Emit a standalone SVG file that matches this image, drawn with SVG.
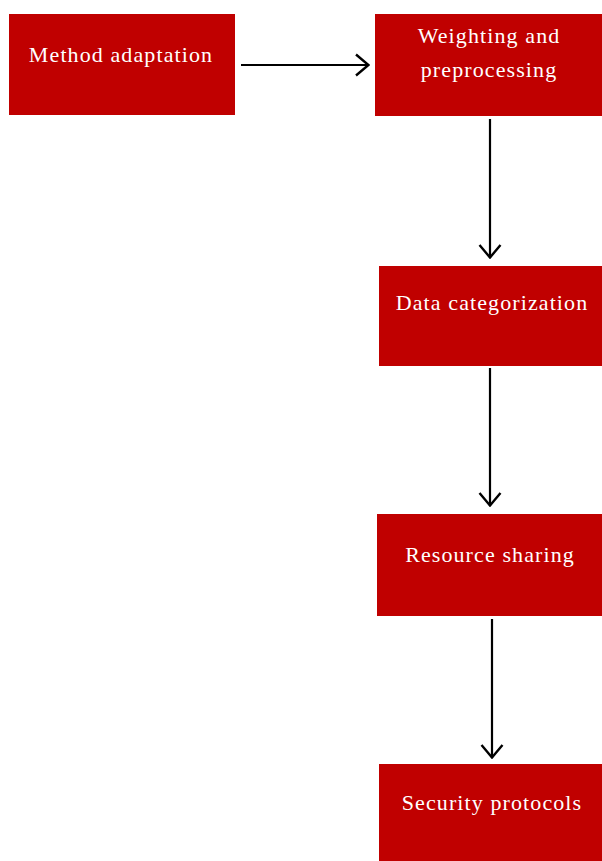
<svg xmlns="http://www.w3.org/2000/svg" width="602" height="861" viewBox="0 0 602 861">
<style>
.box{fill:#c00000;}
.lbl{fill:#ffffff;font-family:"Liberation Serif","Times New Roman",serif;font-size:22px;text-anchor:middle;letter-spacing:1.1px;}
.edge{stroke:#000;stroke-width:2.2;fill:none;}
</style>
<defs>
<marker id="arr" viewBox="0 0 15 24" refX="14" refY="12" markerWidth="15" markerHeight="24" markerUnits="userSpaceOnUse" orient="auto">
<path d="M1,1.5 L13.5,12 L1,22.5" fill="none" stroke="#000" stroke-width="2.4"/>
</marker>
</defs>
<rect width="602" height="861" fill="#ffffff"/>
<g id="connectors">
<line class="edge" x1="241" y1="65" x2="369" y2="65" marker-end="url(#arr)"/>
<line class="edge" x1="490" y1="119" x2="490" y2="258" marker-end="url(#arr)"/>
<line class="edge" x1="490" y1="368" x2="490" y2="506" marker-end="url(#arr)"/>
<line class="edge" x1="492" y1="619" x2="492" y2="758" marker-end="url(#arr)"/>
</g>
<g id="method-adaptation">
<rect class="box" x="9" y="14" width="226" height="101"/>
<text class="lbl" x="121" y="62">Method adaptation</text>
</g>
<g id="weighting">
<rect class="box" x="375" y="14" width="227" height="102"/>
<text class="lbl" x="489" y="43">Weighting  and</text>
<text class="lbl" x="489" y="77">preprocessing</text>
</g>
<g id="data-categorization">
<rect class="box" x="379" y="266" width="223" height="100"/>
<text class="lbl" x="492" y="310">Data categorization</text>
</g>
<g id="resource-sharing">
<rect class="box" x="377" y="514" width="225" height="102"/>
<text class="lbl" x="490" y="562">Resource sharing</text>
</g>
<g id="security-protocols">
<rect class="box" x="379" y="764" width="223" height="97"/>
<text class="lbl" x="492" y="810">Security protocols</text>
</g>
</svg>
